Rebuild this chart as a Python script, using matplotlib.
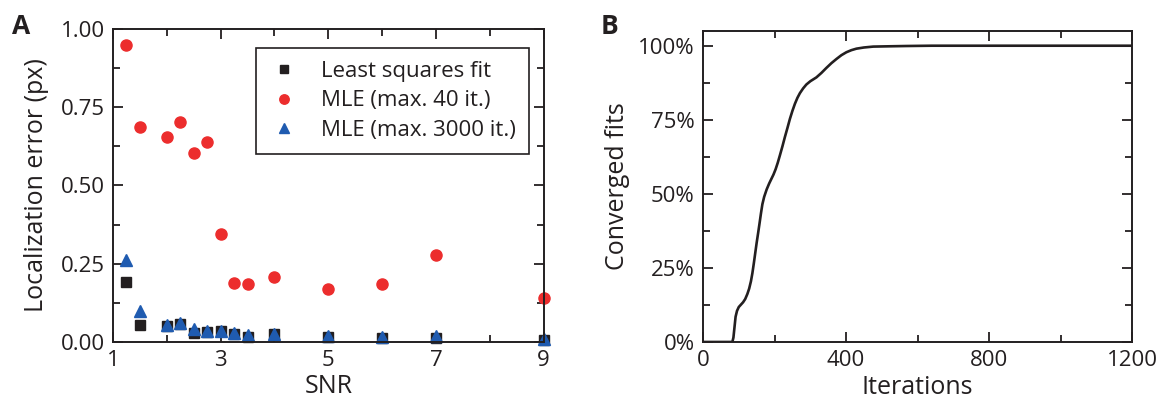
import matplotlib
matplotlib.use("Agg")
import matplotlib.pyplot as plt
from matplotlib.ticker import MultipleLocator, FixedLocator, FuncFormatter
import numpy as np

plt.rcParams['font.family'] = ['Open Sans', 'DejaVu Sans']

# Panel A data
snr = [1.25, 1.5, 2.0, 2.25, 2.5, 2.75, 3.0, 3.25, 3.5, 4.0, 5.0, 6.0, 7.0, 9.0]
lsq_err = [0.191, 0.055, 0.050, 0.058, 0.029, 0.032, 0.034, 0.024, 0.016, 0.024, 0.016, 0.013, 0.013, 0.005]
mle40_err = [0.949, 0.688, 0.656, 0.701, 0.603, 0.639, 0.344, 0.188, 0.185, 0.209, 0.169, 0.185, 0.277, 0.140]
mle3000_err = [0.263, 0.100, 0.055, 0.060, 0.042, 0.035, 0.035, 0.028, 0.022, 0.027, 0.018, 0.015, 0.019, 0.010]
snr_ticks = [1, 3, 5, 7, 9]

# Panel B data
iterations = [0, 82, 85, 88, 91, 95, 100, 106, 112, 118, 124, 129, 134, 138, 142, 146, 150,
              154, 158, 162, 166, 171, 178, 185, 191, 197, 203, 209, 215, 222, 229, 236,
              243, 250, 257, 264, 271, 280, 289, 300, 317, 331, 345, 359, 373, 387, 401,
              415, 429, 450, 476, 520, 569, 640, 709, 1200]
converged = [0.0, 0.0, 0.015, 0.05, 0.085, 0.105, 0.118, 0.126, 0.134, 0.145, 0.162, 0.18,
             0.205, 0.232, 0.265, 0.30, 0.335, 0.367, 0.40, 0.434, 0.465, 0.49, 0.515,
             0.535, 0.550, 0.565, 0.583, 0.605, 0.63, 0.66, 0.692, 0.722, 0.753, 0.780,
             0.804, 0.824, 0.84, 0.856, 0.869, 0.880, 0.893, 0.908, 0.925, 0.941, 0.955,
             0.968, 0.978, 0.985, 0.99, 0.994, 0.997, 0.998, 0.999, 1.0, 1.0, 1.0]

ink = '#231F20'
red = '#EC2D2D'
blue = '#1F5BB0'

fig = plt.figure(figsize=(11.59, 4.12), dpi=100)
axA = fig.add_axes([0.0975, 0.170, 0.3715, 0.760])
axB = fig.add_axes([0.6066, 0.170, 0.3701, 0.755])

tick_fs = 16
label_fs = 18

def style(ax):
    for s in ax.spines.values():
        s.set_linewidth(1.4)
        s.set_color(ink)
    ax.tick_params(which='both', direction='in', top=True, right=True,
                   width=1.3, color=ink, labelsize=tick_fs, labelcolor=ink)
    ax.tick_params(which='major', length=7, pad=6)
    ax.tick_params(which='minor', length=5)

# Panel A
axA.plot(snr, lsq_err, 's', color=ink, markersize=6.5, linestyle='none', label='Least squares fit')
axA.plot(snr, mle40_err, 'o', color=red, markersize=8, linestyle='none', label='MLE (max. 40 it.)')
axA.plot(snr, mle3000_err, '^', color=blue, markersize=8, linestyle='none', label='MLE (max. 3000 it.)')
axA.set_xlim(1, 9)
axA.set_ylim(0, 1.0)
axA.xaxis.set_major_locator(FixedLocator(snr_ticks))
axA.xaxis.set_minor_locator(MultipleLocator(1))
axA.yaxis.set_major_locator(MultipleLocator(0.25))
axA.yaxis.set_minor_locator(MultipleLocator(0.125))
axA.yaxis.set_major_formatter(FuncFormatter(lambda v, p: f"{v:.2f}"))
style(axA)
axA.set_xlabel('SNR', fontsize=label_fs, color=ink, labelpad=2)
axA.set_ylabel('Localization error (px)', fontsize=label_fs, color=ink, labelpad=8)
leg = axA.legend(loc='upper right', bbox_to_anchor=(0.966, 0.94), borderaxespad=0,
                 fontsize=tick_fs,
                 frameon=True, fancybox=False, framealpha=1, edgecolor=ink,
                 handletextpad=1.0, handlelength=1.3, borderpad=0.6, labelspacing=0.38,
                 markerscale=0.85)
leg.get_frame().set_linewidth(1.2)
for t in leg.get_texts():
    t.set_color(ink)
for ln in axA.lines:
    ln.set_clip_on(False)

# Panel B
axB.plot(iterations, converged, color=ink, linewidth=1.9)
axB.set_xlim(0, 1200)
axB.set_ylim(0, 1.05)
axB.xaxis.set_major_locator(MultipleLocator(400))
axB.xaxis.set_minor_locator(MultipleLocator(200))
axB.yaxis.set_major_locator(MultipleLocator(0.25))
axB.yaxis.set_minor_locator(MultipleLocator(0.125))
axB.yaxis.set_major_formatter(FuncFormatter(lambda v, p: f"{v*100:.0f}%"))
style(axB)
axB.set_xlabel('Iterations', fontsize=label_fs, color=ink, labelpad=3)
axB.set_ylabel('Converged fits', fontsize=label_fs, color=ink, labelpad=6)

fig.text(0.010, 0.918, 'A', fontsize=19, fontweight='bold', color=ink)
fig.text(0.518, 0.918, 'B', fontsize=19, fontweight='bold', color=ink)

fig.savefig('out.png', dpi=100)
